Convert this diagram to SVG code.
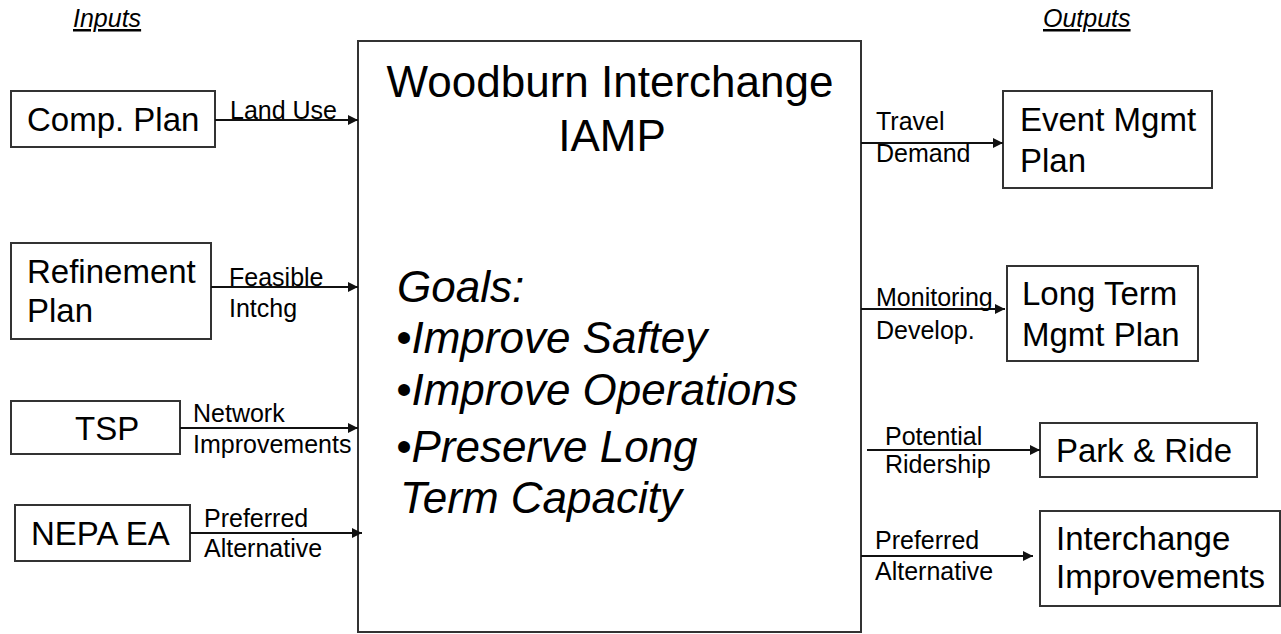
<svg xmlns="http://www.w3.org/2000/svg" width="1281" height="634" viewBox="0 0 1281 634">
<style>
  .box { fill: #ffffff; stroke: #333333; stroke-width: 2; }
  .t { font-family: "Liberation Sans", Arial, sans-serif; fill: #000000; }
  .node { font-size: 33px; }
  .lbl { font-size: 25px; }
  .hdr { font-size: 25px; font-style: italic; text-decoration: underline; }
  .title { font-size: 44px; }
  .goal { font-size: 44px; font-style: italic; }
  .conn { stroke: #111111; stroke-width: 2; fill: none; marker-end: url(#arr); }
</style>
<defs>
  <marker id="arr" viewBox="0 0 10 10" refX="10" refY="5" markerWidth="5.5" markerHeight="5" markerUnits="strokeWidth" orient="auto">
    <path d="M0,0 L10,5 L0,10 z" fill="#111111"/>
  </marker>
</defs>
<rect width="1281" height="634" fill="#ffffff"/>

<text class="t hdr" x="73" y="27">Inputs</text>
<text class="t hdr" x="1043" y="27">Outputs</text>

<g id="main">
  <rect class="box" x="358" y="41" width="503" height="591"/>
  <text class="t title" x="610" y="97" text-anchor="middle">Woodburn Interchange</text>
  <text class="t title" x="612" y="151" text-anchor="middle">IAMP</text>
  <text class="t goal" x="397" y="302">Goals:</text>
  <text class="t goal" x="396" y="353">•Improve Saftey</text>
  <text class="t goal" x="396" y="405">•Improve Operations</text>
  <text class="t goal" x="396" y="462">•Preserve Long</text>
  <text class="t goal" x="400" y="513">Term Capacity</text>
</g>

<g id="comp-plan">
  <rect class="box" x="11" y="91" width="204" height="56"/>
  <text class="t node" x="27" y="131">Comp. Plan</text>
</g>
<g id="refinement-plan">
  <rect class="box" x="11" y="243" width="200" height="96"/>
  <text class="t node" x="27" y="283">Refinement</text>
  <text class="t node" x="27" y="322">Plan</text>
</g>
<g id="tsp">
  <rect class="box" x="11" y="401" width="169" height="53"/>
  <text class="t node" x="75" y="440">TSP</text>
</g>
<g id="nepa-ea">
  <rect class="box" x="15" y="505" width="175" height="56"/>
  <text class="t node" x="31" y="545">NEPA EA</text>
</g>

<g id="event-mgmt">
  <rect class="box" x="1003" y="91" width="209" height="97"/>
  <text class="t node" x="1020" y="131">Event Mgmt</text>
  <text class="t node" x="1020" y="172">Plan</text>
</g>
<g id="long-term">
  <rect class="box" x="1007" y="266" width="191" height="95"/>
  <text class="t node" x="1022" y="305">Long Term</text>
  <text class="t node" x="1022" y="346">Mgmt Plan</text>
</g>
<g id="park-ride">
  <rect class="box" x="1040" y="423" width="217" height="54"/>
  <text class="t node" x="1056" y="462">Park &amp; Ride</text>
</g>
<g id="interchange-improvements">
  <rect class="box" x="1040" y="511" width="240" height="95"/>
  <text class="t node" x="1056" y="550">Interchange</text>
  <text class="t node" x="1056" y="588">Improvements</text>
</g>

<g id="connectors">
  <line class="conn" x1="215" y1="120" x2="358" y2="120"/>
  <line class="conn" x1="211" y1="287" x2="358" y2="287"/>
  <line class="conn" x1="180" y1="428" x2="358" y2="428"/>
  <line class="conn" x1="190" y1="533" x2="362" y2="533"/>
  <line class="conn" x1="861" y1="143" x2="1003" y2="143"/>
  <line class="conn" x1="861" y1="309" x2="1005" y2="309"/>
  <line class="conn" x1="867" y1="450" x2="1040" y2="450"/>
  <line class="conn" x1="861" y1="556" x2="1033" y2="556"/>

  <text class="t lbl" x="230" y="119">Land Use</text>
  <text class="t lbl" x="229" y="286">Feasible</text>
  <text class="t lbl" x="229" y="317">Intchg</text>
  <text class="t lbl" x="193" y="422">Network</text>
  <text class="t lbl" x="193" y="453">Improvements</text>
  <text class="t lbl" x="204" y="527">Preferred</text>
  <text class="t lbl" x="204" y="557">Alternative</text>

  <text class="t lbl" x="876" y="130">Travel</text>
  <text class="t lbl" x="876" y="162">Demand</text>
  <text class="t lbl" x="876" y="306">Monitoring</text>
  <text class="t lbl" x="876" y="339">Develop.</text>
  <text class="t lbl" x="885" y="445">Potential</text>
  <text class="t lbl" x="885" y="473">Ridership</text>
  <text class="t lbl" x="875" y="549">Preferred</text>
  <text class="t lbl" x="875" y="580">Alternative</text>
</g>
</svg>
